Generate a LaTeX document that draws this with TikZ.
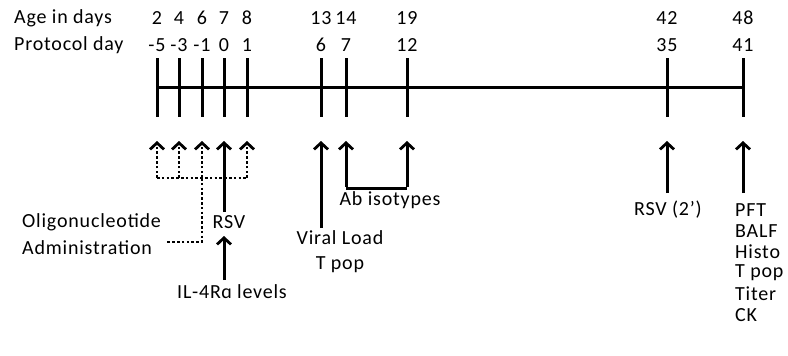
\documentclass[tikz,border=0pt]{standalone}
\usepackage{fontspec}
\setmainfont[LetterSpace=4]{Carlito}
\usetikzlibrary{arrows.meta}
\begin{document}
\begin{tikzpicture}[x=1pt,y=-1pt,
  lbl/.style={font=\fontsize{20}{24}\selectfont, inner sep=0pt},
  tick/.style={line width=3pt},
  arr/.style={line width=3pt, -{Straight Barb[length=6.5pt,width=14pt,line width=2.8pt]}},
  darr/.style={line width=2.8pt, dash pattern=on 2.6pt off 2.2pt, -{Straight Barb[length=6.5pt,width=14pt,line width=2.8pt]}},
  dline/.style={line width=2.8pt, dash pattern=on 2.6pt off 2.2pt}]
\useasboundingbox (0,0) rectangle (788,356);
\fill[white] (0,0) rectangle (788,356);
% header labels
\node[lbl, anchor=west] (age) at (14,18) {Age in days};
\node[lbl, anchor=west] (prot) at (14,45) {Protocol day};
% tick positions
\foreach \n/\x/\a/\p in {t1/157/2/-5, t2/179/4/-3, t3/202/6/-1, t4/224/7/0, t5/247/8/1, t6/321/13/6, t7/346/14/7, t8/407/19/12, t9/667/42/35, t10/743/48/41}{
  \node[lbl] (a\n) at (\x,18) {\a};
  \node[lbl] (p\n) at (\x,45) {\p};
  \coordinate (\n top) at (\x,58);
  \coordinate (\n bot) at (\x,117);
  \coordinate (\n tip) at (\x,141);
  \draw[tick] (\n top) -- (\n bot);
}
\draw[tick] (157,87) coordinate (lineL) -- (743,87) coordinate (lineR);
% dotted oligonucleotide arrows
\coordinate (d1) at (157,178);
\coordinate (d2) at (179,178);
\coordinate (d3) at (202,178);
\coordinate (d5) at (247,178);
\coordinate (dlow) at (202,242);
\coordinate (dend) at (167,242);
\draw[dline] (d1) -- (d5);
\foreach \i/\n in {1/t1,2/t2,3/t3,5/t5}{
  \draw[darr] (d\i) -- (\n tip);
}
\draw[dline] (d3) -- (dlow) -- (dend);
\node[lbl, anchor=west] (oligo) at (22,222) {Oligonucleotide};
\node[lbl, anchor=west] (admin) at (22,248) {Administration};
% RSV
\node[lbl] (rsv) at (229,222) {RSV};
\draw[arr] (224,212) -- (t4tip);
\node[lbl] (il4) at (232,292) {IL-4R\symbol{"0251} levels};
\draw[arr] (224,280) -- (224,236);
% viral load
\node[lbl] (viral) at (340,238) {Viral Load};
\node[lbl] (tpop1) at (340,265) {T pop};
\draw[arr] (321,228) -- (t6tip);
% Ab isotypes
\node[lbl] (ab) at (390,200) {Ab isotypes};
\draw[line width=3pt] (346,188) coordinate (abL) -- (407,188) coordinate (abR);
\draw[arr] ([yshift=1.5pt]abL) -- (t7tip);
\draw[arr] ([yshift=1.5pt]abR) -- (t8tip);
% RSV 2'
\node[lbl] (rsv2) at (668,210) {RSV (2’)};
\draw[arr] (667,193) -- (t9tip);
% final
\draw[arr] (743,193) -- (t10tip);
\foreach \t [count=\k] in {PFT,BALF,Histo,T pop,Titer,CK}{
  \node[lbl, anchor=west] (end\k) at (735,189+21*\k) {\t};
}
\end{tikzpicture}
\end{document}
